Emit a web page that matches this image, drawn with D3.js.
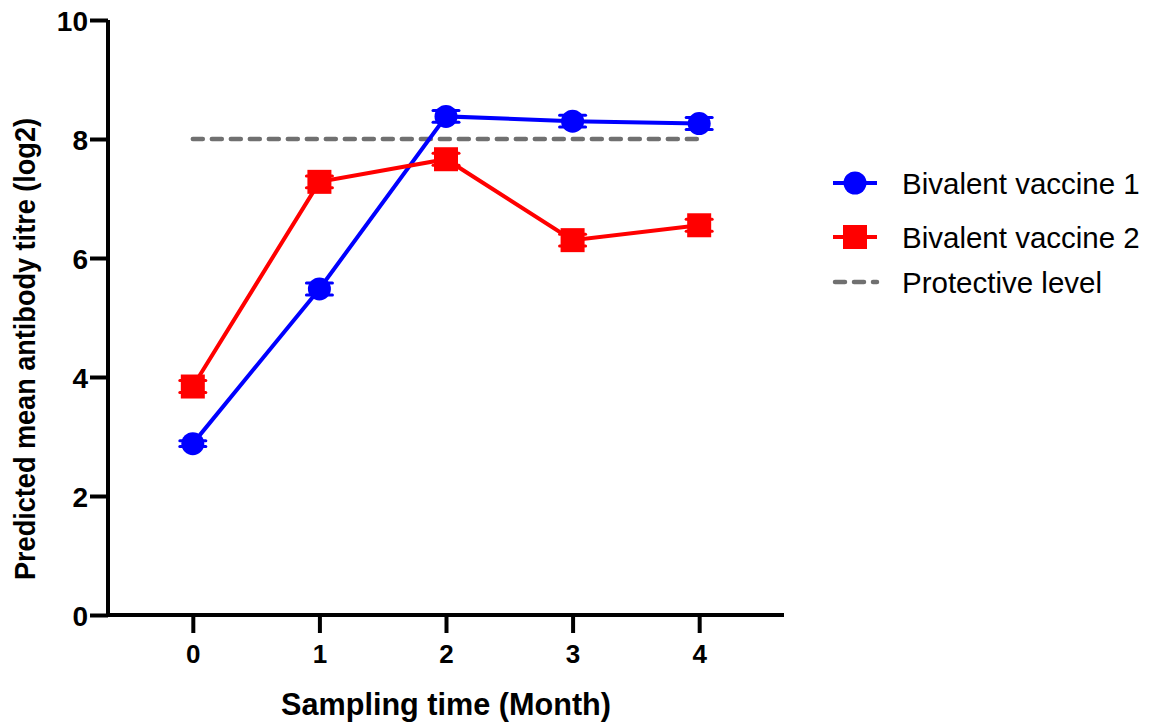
<!DOCTYPE html>
<html>
<head>
<meta charset="utf-8">
<script src="https://cdn.jsdelivr.net/npm/d3@7"></script>
<style>
  body { margin: 0; background: #fff; }
  svg text { font-family: "Liberation Sans", Arial, sans-serif; }
</style>
</head>
<body>
<div id="chart"></div>
<script>
// Data
const months = [0, 1, 2, 3, 4];
const vaccine1 = [2.88, 5.48, 8.38, 8.30, 8.26];
const vaccine1Err = [0.05, 0.1, 0.1, 0.1, 0.1];
const vaccine2 = [3.84, 7.28, 7.66, 6.30, 6.55];
const vaccine2Err = [0.1, 0.1, 0.1, 0.1, 0.1];
const protectiveLevel = 8;
const yTicks = [0, 2, 4, 6, 8, 10];
const seriesNames = ['Bivalent vaccine 1', 'Bivalent vaccine 2', 'Protective level'];

const dimensions = {
  width: 1150,
  height: 724,
  margin: { top: 20, left: 108 }
}
dimensions.ctrWidth = 784 - dimensions.margin.left;
dimensions.ctrHeight = 615 - dimensions.margin.top;

const svg = d3.select('#chart')
  .append('svg')
  .attr('width', dimensions.width)
  .attr('height', dimensions.height);

const ctr = svg.append('g')
  .attr('transform', `translate(${dimensions.margin.left}, ${dimensions.margin.top})`);

// Scales
const xScale = d3.scaleLinear()
  .domain([-0.67, 4.67])
  .range([0, dimensions.ctrWidth]);

const yScale = d3.scaleLinear()
  .domain([0, 10])
  .range([dimensions.ctrHeight, 0]);

// Axes
const xAxis = d3.axisBottom(xScale)
  .tickValues(months)
  .tickFormat(d3.format('d'))
  .tickSize(18)
  .tickPadding(11.5)
  .tickSizeOuter(0);

const xAxisGroup = ctr.append('g')
  .attr('transform', `translate(0, ${dimensions.ctrHeight})`)
  .call(xAxis);

const yAxis = d3.axisLeft(yScale)
  .tickValues(yTicks)
  .tickFormat(d3.format('d'))
  .tickSize(18)
  .tickPadding(2)
  .tickSizeOuter(0);

const yAxisGroup = ctr.append('g').call(yAxis);

[xAxisGroup, yAxisGroup].forEach(g => {
  g.select('.domain').attr('stroke', '#000').attr('stroke-width', 4);
  g.selectAll('.tick line').attr('stroke', '#000').attr('stroke-width', 4);
  g.selectAll('.tick text')
    .attr('fill', '#000')
    .style('font-weight', 'bold');
});
xAxisGroup.selectAll('.tick text').style('font-size', '26px');
yAxisGroup.selectAll('.tick text').style('font-size', '28px').attr('dy', '0.36em');
// extend axis lines so the corner joins square
xAxisGroup.select('.domain').attr('d', `M-2,0H${dimensions.ctrWidth}`);
yAxisGroup.select('.domain').attr('d', `M0,${dimensions.ctrHeight + 2}V0`);

// Axis titles
svg.append('text')
  .attr('x', dimensions.margin.left + xScale(2))
  .attr('y', 715)
  .attr('text-anchor', 'middle')
  .attr('textLength', 330)
  .attr('lengthAdjust', 'spacingAndGlyphs')
  .style('font-size', '31px')
  .style('font-weight', 'bold')
  .text('Sampling time (Month)');

svg.append('text')
  .attr('transform', 'translate(35, 349) rotate(-90)')
  .attr('text-anchor', 'middle')
  .attr('textLength', 462)
  .attr('lengthAdjust', 'spacingAndGlyphs')
  .style('font-size', '30px')
  .style('font-weight', 'bold')
  .text('Predicted mean antibody titre (log2)');

// Protective level
ctr.append('line')
  .attr('x1', xScale(months[0]))
  .attr('x2', xScale(months[months.length - 1]))
  .attr('y1', yScale(protectiveLevel))
  .attr('y2', yScale(protectiveLevel))
  .attr('stroke', '#707070')
  .attr('stroke-width', 4.5)
  .attr('stroke-dasharray', '10,9')
  .attr('stroke-linecap', 'round');

const series = [
  { name: seriesNames[0], values: vaccine1, err: vaccine1Err, color: '#0000ff', shape: 'circle' },
  { name: seriesNames[1], values: vaccine2, err: vaccine2Err, color: '#ff0000', shape: 'square' }
];

const line = d3.line()
  .x((d, i) => xScale(months[i]))
  .y(d => yScale(d));

const drawMarker = (g, shape, color) => {
  if (shape === 'circle') {
    g.append('circle').attr('r', 11.5).attr('fill', color);
  } else {
    g.append('rect')
      .attr('x', -12).attr('y', -12)
      .attr('width', 24).attr('height', 24)
      .attr('fill', color);
  }
}

series.forEach(s => {
  const g = ctr.append('g');
  g.append('path')
    .datum(s.values)
    .attr('d', line)
    .attr('fill', 'none')
    .attr('stroke', s.color)
    .attr('stroke-width', 4);

  // error bars
  const eb = g.selectAll('.err')
    .data(s.values)
    .join('g')
    .attr('transform', (d, i) => `translate(${xScale(months[i])}, 0)`);
  eb.append('line')
    .attr('y1', (d, i) => yScale(d + s.err[i]))
    .attr('y2', (d, i) => yScale(d - s.err[i]))
    .attr('stroke', s.color).attr('stroke-width', 3);
  [1, -1].forEach(sign => {
    eb.append('line')
      .attr('x1', -13).attr('x2', 13)
      .attr('y1', (d, i) => yScale(d + sign * s.err[i]))
      .attr('y2', (d, i) => yScale(d + sign * s.err[i]))
      .attr('stroke', s.color)
      .attr('stroke-width', 3)
      .attr('stroke-linecap', 'round');
  });

  g.selectAll('.marker')
    .data(s.values)
    .join('g')
    .attr('transform', (d, i) => `translate(${xScale(months[i])}, ${yScale(d)})`)
    .each(function () { drawMarker(d3.select(this), s.shape, s.color); });
});

// Legend
const legend = svg.append('g').attr('transform', 'translate(833, 0)');
const legendY = [183, 237, 282];

series.forEach((s, i) => {
  const row = legend.append('g').attr('transform', `translate(0, ${legendY[i]})`);
  row.append('line')
    .attr('x1', 0).attr('x2', 44)
    .attr('stroke', s.color).attr('stroke-width', 4);
  const m = row.append('g').attr('transform', 'translate(22, 0)');
  drawMarker(m, s.shape, s.color);
});

const protRow = legend.append('g').attr('transform', `translate(0, ${legendY[2]})`);
protRow.append('line')
  .attr('x1', 2).attr('x2', 44)
  .attr('stroke', '#707070').attr('stroke-width', 4.5)
  .attr('stroke-dasharray', '10,9')
  .attr('stroke-linecap', 'round');

legend.selectAll('.label')
  .data(seriesNames)
  .join('text')
  .attr('x', 69)
  .attr('y', (d, i) => legendY[i])
  .attr('dy', '0.36em')
  .style('font-size', '29.5px')
  .attr('fill', '#000')
  .text(d => d);
</script>
</body>
</html>
